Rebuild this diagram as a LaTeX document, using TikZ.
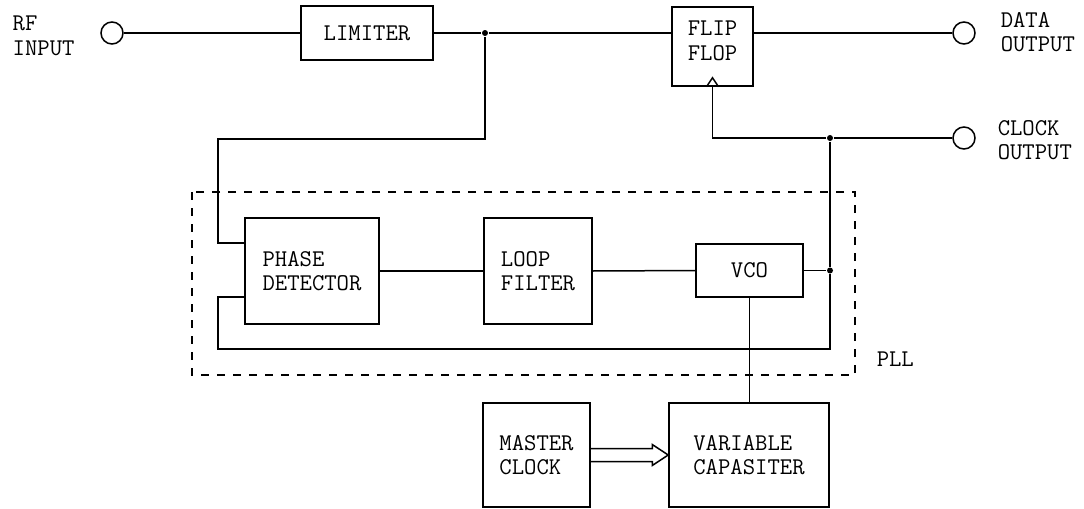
\documentclass[tikz,border=0pt]{standalone}
\usetikzlibrary{positioning,calc}

\begin{document}
\begin{tikzpicture}[
    x=0.5pt, y=-0.5pt,
    line width=0.75pt,
    every node/.style={font=\ttfamily\fontsize{12}{12.2}\selectfont},
    blk/.style={draw, line width=0.75pt, inner sep=0pt, align=left},
    port/.style={draw, circle, minimum size=11pt, inner sep=0pt},
    dot/.style={circle, fill, inner sep=0pt, minimum size=3pt},
    lbl/.style={align=left, inner sep=0pt},
    pllbox/.style={draw, dash pattern=on 4pt off 4pt, line width=0.7pt},
]
\useasboundingbox (0,0) rectangle (1084,509);

% Entradas y salidas
\node[lbl, anchor=west] (rftxt) at (12,36) {RF\\INPUT};
\node[port] (rfin) at (112,33) {};
\node[port] (dout) at (964,33) {};
\node[lbl, anchor=west] (douttxt) at (1000,32) {DATA\\OUTPUT};
\node[port] (cout) at (964,138) {};
\node[lbl, anchor=west] (couttxt) at (997,140) {CLOCK\\OUTPUT};

% Bloques
\node[blk, minimum width=66pt, minimum height=27pt] (lim) at (367,33) {LIMITER};
\node[blk, minimum width=40.5pt, minimum height=39.5pt] (ff) at (712.5,46.5) {};
\node[lbl, below=7pt of ff.north] (fftxt) {FLIP\\FLOP};
\draw ($(ff.south)+(-6,0)$) -- ($(ff.south)+(0,-9)$) -- ($(ff.south)+(6,0)$);

\node[blk, minimum width=67pt, minimum height=53pt] (pd) at (312,271) {PHASE\\DETECTOR};
\node[blk, minimum width=54pt, minimum height=53pt] (lf) at (538,271) {LOOP\\FILTER};
\node[blk, minimum width=53.5pt, minimum height=26.5pt] (vco) at (749.5,270.5) {VCO};
\node[blk, minimum width=53.5pt, minimum height=52pt] (mclk) at (536.5,455) {MASTER\\CLOCK};
\node[blk, minimum width=80pt, minimum height=52pt] (vcap) at (749,455) {VARIABLE\\CAPASITER};

% Recuadro PLL
\draw[pllbox] (192,192) rectangle (855,375);
\node[lbl, anchor=west] (plltxt) at (876,359) {PLL};

% Nudos
\node[dot] (jA) at (485,33) {};
\node[dot] (jB) at (830,138) {};
\node[dot] (jC) at (830,270.5) {};
\coordinate (cA) at (218,139);
\coordinate (cE) at (218,349);

% Conexiones
\draw (rfin.east) -- (lim.west);
\draw (lim.east) -- (jA) -- (jA -| ff.west);
\draw (ff.east |- dout) -- (dout.west);
\draw (ff.south) |- (jB) -- (cout.west);
\draw (jA) |- (cA) |- ($(pd.west)+(0,-28)$);
\draw (pd.east) -- (lf.west);
\draw (lf.east) -- (vco.west);
\draw (vco.east) -- (jC);
\draw (jB) -- (jC) |- (cE) |- ($(pd.west)+(0,26)$);
\draw (vco.south) -- (vco.south |- vcap.north);

% Flecha hueca
\draw ($(mclk.east)+(0,-6.5)$) -- ($(vcap.west)+(-16,-6.5)$) -- ($(vcap.west)+(-16,-10.5)$)
    -- (vcap.west) -- ($(vcap.west)+(-16,10.5)$) -- ($(vcap.west)+(-16,6.5)$)
    -- ($(mclk.east)+(0,6.5)$);

\end{tikzpicture}
\end{document}
